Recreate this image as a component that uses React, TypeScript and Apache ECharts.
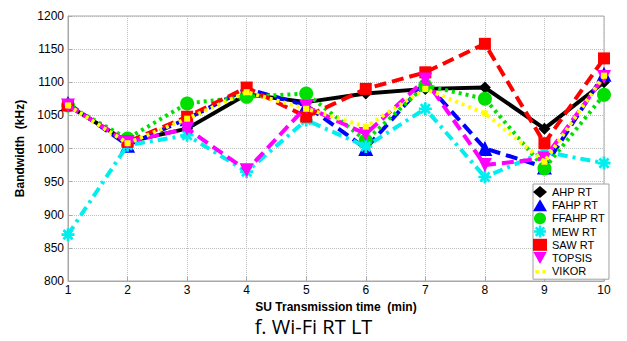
import React, { useEffect, useRef } from "react";
import * as echarts from "echarts";

const times = [1, 2, 3, 4, 5, 6, 7, 8, 9, 10];
const ahp = [1065, 1010, 1030, 1082, 1070, 1083, 1090, 1092, 1030, 1100];
const fahp = [1068, 1005, 1045, 1090, 1065, 1000, 1100, 1000, 972, 1112];
const ffahp = [1065, 1015, 1068, 1078, 1083, 1012, 1095, 1075, 970, 1081];
const mew = [870, 1005, 1020, 965, 1043, 1003, 1060, 957, 995, 978];
const saw = [1065, 1010, 1048, 1092, 1048, 1090, 1115, 1158, 1008, 1136];
const topsis = [1065, 1010, 1030, 967, 1063, 1022, 1104, 975, 985, 1108];
const vikor = [1065, 1008, 1045, 1085, 1060, 1033, 1090, 1053, 980, 1110];
const yTicks = { min: 800, max: 1200, step: 50 };
const xTicks = { min: 1, max: 10, step: 1 };

function makeStar(arms: number, L: number, w: number) {
  const pts: string[] = [];
  const step = (Math.PI * 2) / arms;
  const r = w / Math.sin(step / 2);
  for (let k = 0; k < arms; k++) {
    const t = k * step;
    const ux = Math.cos(t), uy = Math.sin(t);
    const nx = -uy, ny = ux;
    pts.push(`${(L * ux - w * nx).toFixed(3)},${(L * uy - w * ny).toFixed(3)}`);
    pts.push(`${(L * ux + w * nx).toFixed(3)},${(L * uy + w * ny).toFixed(3)}`);
    const m = t + step / 2;
    pts.push(`${(r * Math.cos(m)).toFixed(3)},${(r * Math.sin(m)).toFixed(3)}`);
  }
  return "path://M" + pts.join("L") + "Z";
}

const starPath = makeStar(8, 5.5, 1.15);
const triDown = "path://M0,0L10,0L5,9Z";
const dotsIcon =
  "path://M0,0L0.01,0L0,0.01Z M10,10L9.99,10L10,9.99Z M1,4L4,4L4,7L1,7Z M7,4L10,4L10,7L7,7Z";

const defs = [
  { name: "AHP RT", data: ahp, color: "#000000", type: "solid", symbol: "diamond", size: 12, icon: "diamond" },
  { name: "FAHP RT", data: fahp, color: "#0000ff", type: [12, 6], symbol: "triangle", size: 15, icon: "triangle" },
  { name: "FFAHP RT", data: ffahp, color: "#00e000", type: [3, 4], symbol: "circle", size: 14, icon: "circle" },
  { name: "MEW RT", data: mew, color: "#00eeee", type: [10, 5, 3, 5], symbol: starPath, size: 13, icon: starPath },
  { name: "SAW RT", data: saw, color: "#ff0000", type: [12, 6], symbol: "rect", size: 12, icon: "rect" },
  { name: "TOPSIS", data: topsis, color: "#ff00ff", type: [12, 6], symbol: triDown, size: 14, icon: triDown },
  { name: "VIKOR", data: vikor, color: "#ffff00", type: [3, 4], symbol: "rect", size: 6, icon: dotsIcon },
];

const FONT = "'Liberation Sans', Arial, sans-serif";

export default function App() {
  const ref = useRef<HTMLDivElement>(null);
  useEffect(() => {
    if (!ref.current) return;
    const chart = echarts.init(ref.current, null, { renderer: "svg" });
    chart.setOption({
      animation: false,
      backgroundColor: "#ffffff",
      title: {
        text: "f. Wi-Fi RT LT",
        left: "center",
        top: 315,
        padding: 0,
        textStyle: {
          fontFamily: "'Open Sans', sans-serif",
          fontSize: 20,
          lineHeight: 22,
          fontWeight: "normal",
          color: "#000",
        },
      },
      grid: {
        left: 68,
        right: 23,
        top: 16,
        bottom: 60,
        show: true,
        borderColor: "#a8a8a8",
        borderWidth: 1,
        backgroundColor: "#ffffff",
      },
      legend: {
        orient: "vertical",
        left: 533,
        top: 184,
        width: 70,
        padding: [2, 4, 2, 0],
        itemGap: 1.2,
        itemWidth: 14,
        itemHeight: 12,
        backgroundColor: "#ffffff",
        borderColor: "#a0a0a0",
        borderWidth: 1,
        textStyle: { fontFamily: FONT, fontSize: 11, color: "#000" },
        data: defs.map((d) => ({ name: d.name, icon: d.icon, itemStyle: { color: d.color } })),
      },
      xAxis: {
        type: "value",
        min: xTicks.min,
        max: xTicks.max,
        interval: xTicks.step,
        name: "SU Transmission time  (min)",
        nameLocation: "middle",
        nameGap: 10,
        nameTextStyle: { fontFamily: FONT, fontSize: 12, lineHeight: 13, fontWeight: "bold", color: "#000" },
        axisLine: { show: true, lineStyle: { color: "#a8a8a8" } },
        axisTick: { show: true, inside: true, length: 4, lineStyle: { color: "#a8a8a8" } },
        axisLabel: { fontFamily: FONT, fontSize: 12, color: "#000", margin: 3 },
        splitLine: { show: true, lineStyle: { type: "dotted", color: "#bdbdbd" } },
      },
      yAxis: {
        type: "value",
        min: yTicks.min,
        max: yTicks.max,
        interval: yTicks.step,
        name: "Bandwidth  (kHz)",
        nameLocation: "middle",
        nameGap: 34,
        nameTextStyle: { fontFamily: FONT, fontSize: 12, fontWeight: "bold", color: "#000" },
        axisLine: { show: true, lineStyle: { color: "#a8a8a8" } },
        axisTick: { show: true, inside: true, length: 4, lineStyle: { color: "#a8a8a8" } },
        axisLabel: { fontFamily: FONT, fontSize: 12, color: "#000", margin: 4, formatter: (v: number) => String(v) },
        splitLine: { show: true, lineStyle: { type: "dotted", color: "#bdbdbd" } },
      },
      series: defs.map((d, i) => ({
        name: d.name,
        type: "line",
        z: 2 + i,
        data: times.map((t, j) => [t, d.data[j]]),
        symbol: d.symbol,
        symbolSize: d.size,
        showSymbol: true,
        lineStyle: { color: d.color, width: 4, type: d.type, cap: "butt" },
        itemStyle: { color: d.color, borderWidth: 0 },
      })),
    });
    return () => chart.dispose();
  }, []);
  return (
    <div
      ref={ref}
      style={{ position: "absolute", left: 0, top: 0, width: 627, height: 341 }}
    />
  );
}
